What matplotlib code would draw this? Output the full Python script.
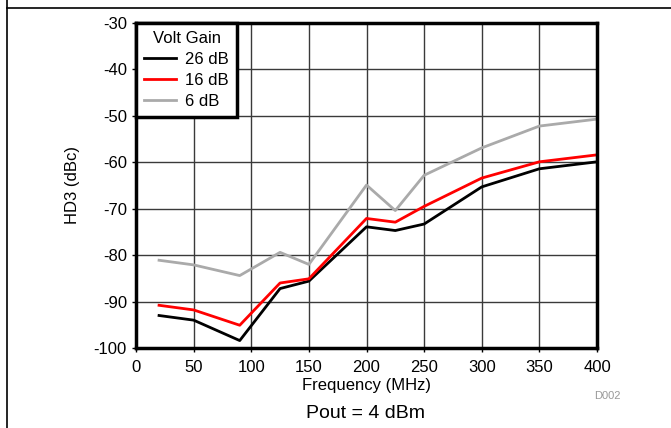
import matplotlib
matplotlib.use("Agg")
import matplotlib.pyplot as plt
from matplotlib.lines import Line2D

plt.rcParams['font.family'] = ['Liberation Sans', 'DejaVu Sans']
plt.rcParams['axes.unicode_minus'] = False

freq = [20, 50, 90, 125, 150, 200, 225, 250, 300, 350, 400]
hd3_26db = [-93.0, -94.0, -98.4, -87.2, -85.6, -73.9, -74.7, -73.3, -65.3, -61.4, -59.9]
hd3_16db = [-90.8, -91.8, -95.1, -86.0, -85.1, -72.1, -72.9, -69.5, -63.4, -59.9, -58.4]
hd3_6db = [-81.1, -82.1, -84.4, -79.4, -82.0, -64.9, -70.4, -62.8, -56.9, -52.2, -50.7]

x_ticks = [0, 50, 100, 150, 200, 250, 300, 350, 400]
y_ticks = [-100, -90, -80, -70, -60, -50, -40, -30]

fig = plt.figure(figsize=(6.71, 4.28), dpi=100)
ax = fig.add_axes([136 / 671, 1 - 348 / 428, (597 - 136) / 671, (348 - 23) / 428])

ax.plot(freq, hd3_26db, color='black', lw=2, label='26 dB')
ax.plot(freq, hd3_16db, color='#ff0000', lw=2, label='16 dB')
ax.plot(freq, hd3_6db, color='#aaaaaa', lw=2, label='6 dB')

ax.set_xlim(0, 400)
ax.set_ylim(-100, -30)
ax.set_xticks(x_ticks)
ax.set_yticks(y_ticks)
ax.grid(True, color='#3a3a3a', lw=1)
ax.set_axisbelow(True)
for s in ax.spines.values():
    s.set_linewidth(2.5)
ax.tick_params(labelsize=12, length=3, width=1)
ax.tick_params(axis='x', pad=6)
ax.set_xlabel('Frequency (MHz)', fontsize=12, labelpad=2)
ax.set_ylabel('HD3 (dBc)', fontsize=12, labelpad=10)

leg = ax.legend(title='Volt Gain', loc='upper left', fontsize=12, title_fontsize=12,
                fancybox=False, framealpha=1, edgecolor='black', borderaxespad=0,
                handlelength=1.9, handletextpad=0.55, labelspacing=0.35,
                alignment='center', borderpad=0.5)
leg.get_frame().set_linewidth(2.5)

fig.text(607 / 671, 1 - 396 / 428, 'D002', fontsize=8, color='#999999', ha='center', va='center')
fig.text(366 / 671, 1 - 413 / 428, 'Pout = 4 dBm', fontsize=14, ha='center', va='center')

fig.add_artist(Line2D([7 / 671, 1], [1 - 8 / 428, 1 - 8 / 428], color='black', lw=1.2,
                      transform=fig.transFigure))
fig.add_artist(Line2D([7 / 671, 7 / 671], [0, 1], color='black', lw=1.2,
                      transform=fig.transFigure))

fig.savefig('out.png', dpi=100)
